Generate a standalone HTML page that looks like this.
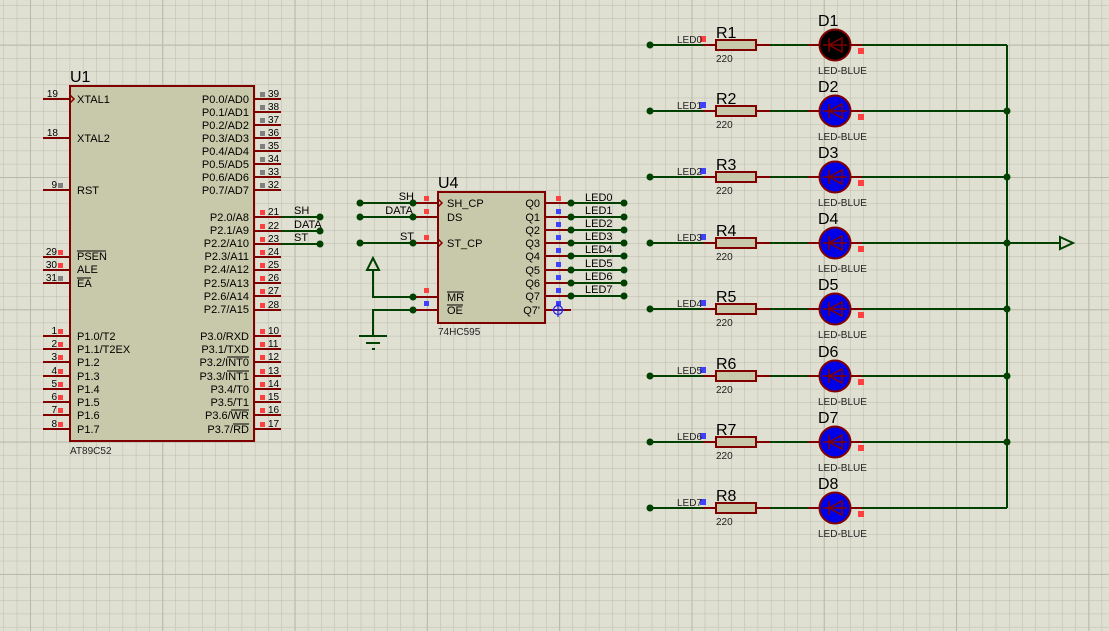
<!DOCTYPE html>
<html><head><meta charset="utf-8"><style>
html,body{margin:0;padding:0;background:#dfdfd2;}
svg{display:block;}
text{font-family:"Liberation Sans",sans-serif;fill:#000;}
.p{font-size:11px;}
.s{font-size:10px;fill:#222;}
.b{font-size:16px;}
</style></head><body>
<svg width="1109" height="631" viewBox="0 0 1109 631" xmlns="http://www.w3.org/2000/svg">
<defs>
<pattern id="g" x="3.54" y="5.1" width="13.23" height="13.23" patternUnits="userSpaceOnUse">
<path d="M0 0H13.23M0 0V13.23" stroke="#bdbdae" stroke-width="1" fill="none"/>
</pattern>
<pattern id="G" x="30" y="44.7" width="132.3" height="132.3" patternUnits="userSpaceOnUse">
<path d="M0 0H132.3M0 0V132.3" stroke="#b8b8a8" stroke-width="2" fill="none"/>
</pattern>
</defs>
<rect width="1109" height="631" fill="#dfdfd2"/>
<rect width="1109" height="631" fill="url(#g)"/>
<rect width="1109" height="631" fill="url(#G)"/>

<!-- U1 -->
<g stroke="#800000" stroke-width="2">
<line x1="43" y1="99" x2="70" y2="99"/><line x1="43" y1="138" x2="70" y2="138"/><line x1="43" y1="190" x2="70" y2="190"/>
<line x1="43" y1="257" x2="70" y2="257"/><line x1="43" y1="270" x2="70" y2="270"/><line x1="43" y1="283" x2="70" y2="283"/>
<line x1="43" y1="336" x2="70" y2="336"/><line x1="43" y1="349" x2="70" y2="349"/><line x1="43" y1="362" x2="70" y2="362"/><line x1="43" y1="376" x2="70" y2="376"/>
<line x1="43" y1="389" x2="70" y2="389"/><line x1="43" y1="402" x2="70" y2="402"/><line x1="43" y1="415" x2="70" y2="415"/><line x1="43" y1="429" x2="70" y2="429"/>
<line x1="254" y1="99" x2="281" y2="99"/><line x1="254" y1="112" x2="281" y2="112"/><line x1="254" y1="125" x2="281" y2="125"/><line x1="254" y1="138" x2="281" y2="138"/>
<line x1="254" y1="151" x2="281" y2="151"/><line x1="254" y1="164" x2="281" y2="164"/><line x1="254" y1="177" x2="281" y2="177"/><line x1="254" y1="190" x2="281" y2="190"/>
<line x1="254" y1="217" x2="281" y2="217"/><line x1="254" y1="231" x2="281" y2="231"/><line x1="254" y1="244" x2="281" y2="244"/><line x1="254" y1="257" x2="281" y2="257"/>
<line x1="254" y1="270" x2="281" y2="270"/><line x1="254" y1="283" x2="281" y2="283"/><line x1="254" y1="296" x2="281" y2="296"/><line x1="254" y1="310" x2="281" y2="310"/>
<line x1="254" y1="336" x2="281" y2="336"/><line x1="254" y1="349" x2="281" y2="349"/><line x1="254" y1="362" x2="281" y2="362"/><line x1="254" y1="376" x2="281" y2="376"/>
<line x1="254" y1="389" x2="281" y2="389"/><line x1="254" y1="402" x2="281" y2="402"/><line x1="254" y1="415" x2="281" y2="415"/><line x1="254" y1="429" x2="281" y2="429"/>
</g>
<rect x="70" y="86" width="184" height="355" fill="#c8c8aa" stroke="#800000" stroke-width="2"/>
<path d="M70 95 L74 99 L70 103" fill="none" stroke="#800000" stroke-width="1.5"/>
<text x="70" y="82" class="b">U1</text>
<text x="70" y="454" class="s">AT89C52</text>
<g class="p">
<text x="77" y="103">XTAL1</text><text x="77" y="142">XTAL2</text><text x="77" y="194">RST</text>
<text x="77" y="260">PSEN</text><text x="77" y="273">ALE</text><text x="77" y="287">EA</text>
<text x="77" y="340">P1.0/T2</text><text x="77" y="353">P1.1/T2EX</text><text x="77" y="366">P1.2</text><text x="77" y="380">P1.3</text>
<text x="77" y="393">P1.4</text><text x="77" y="406">P1.5</text><text x="77" y="419">P1.6</text><text x="77" y="433">P1.7</text>
</g>
<g stroke="#000" stroke-width="1"><line x1="77" y1="251" x2="106" y2="251"/><line x1="77" y1="278" x2="91" y2="278"/>
<line x1="227" y1="357" x2="249" y2="357"/><line x1="227" y1="371" x2="249" y2="371"/><line x1="231" y1="410" x2="249" y2="410"/><line x1="233" y1="424" x2="249" y2="424"/></g>
<g class="p" text-anchor="end">
<text x="249" y="103">P0.0/AD0</text><text x="249" y="116">P0.1/AD1</text><text x="249" y="129">P0.2/AD2</text><text x="249" y="142">P0.3/AD3</text>
<text x="249" y="155">P0.4/AD4</text><text x="249" y="168">P0.5/AD5</text><text x="249" y="181">P0.6/AD6</text><text x="249" y="194">P0.7/AD7</text>
<text x="249" y="221">P2.0/A8</text><text x="249" y="234">P2.1/A9</text><text x="249" y="247">P2.2/A10</text><text x="249" y="260">P2.3/A11</text>
<text x="249" y="273">P2.4/A12</text><text x="249" y="287">P2.5/A13</text><text x="249" y="300">P2.6/A14</text><text x="249" y="313">P2.7/A15</text>
<text x="249" y="340">P3.0/RXD</text><text x="249" y="353">P3.1/TXD</text><text x="249" y="366">P3.2/INT0</text><text x="249" y="380">P3.3/INT1</text>
<text x="249" y="393">P3.4/T0</text><text x="249" y="406">P3.5/T1</text><text x="249" y="419">P3.6/WR</text><text x="249" y="433">P3.7/RD</text>
</g>
<g class="s" text-anchor="end">
<text x="58" y="97">19</text><text x="58" y="136">18</text><text x="57" y="188">9</text>
<text x="57" y="255">29</text><text x="57" y="268">30</text><text x="57" y="281">31</text>
<text x="57" y="334">1</text><text x="57" y="347">2</text><text x="57" y="360">3</text><text x="57" y="374">4</text>
<text x="57" y="387">5</text><text x="57" y="400">6</text><text x="57" y="413">7</text><text x="57" y="427">8</text>
</g>
<g class="s">
<text x="268" y="97">39</text><text x="268" y="110">38</text><text x="268" y="123">37</text><text x="268" y="136">36</text>
<text x="268" y="149">35</text><text x="268" y="162">34</text><text x="268" y="175">33</text><text x="268" y="188">32</text>
<text x="268" y="215">21</text><text x="268" y="229">22</text><text x="268" y="242">23</text><text x="268" y="255">24</text>
<text x="268" y="268">25</text><text x="268" y="281">26</text><text x="268" y="294">27</text><text x="268" y="308">28</text>
<text x="268" y="334">10</text><text x="268" y="347">11</text><text x="268" y="360">12</text><text x="268" y="374">13</text>
<text x="268" y="387">14</text><text x="268" y="400">15</text><text x="268" y="413">16</text><text x="268" y="427">17</text>
</g>
<g fill="#808080"><rect x="58" y="183" width="5" height="5"/><rect x="58" y="276" width="5" height="5"/>
<rect x="260" y="92" width="5" height="5"/><rect x="260" y="105" width="5" height="5"/><rect x="260" y="118" width="5" height="5"/><rect x="260" y="131" width="5" height="5"/>
<rect x="260" y="144" width="5" height="5"/><rect x="260" y="157" width="5" height="5"/><rect x="260" y="170" width="5" height="5"/><rect x="260" y="183" width="5" height="5"/></g>
<g fill="#ff4040"><rect x="58" y="250" width="5" height="5"/><rect x="58" y="263" width="5" height="5"/>
<rect x="58" y="329" width="5" height="5"/><rect x="58" y="342" width="5" height="5"/><rect x="58" y="355" width="5" height="5"/><rect x="58" y="369" width="5" height="5"/>
<rect x="58" y="382" width="5" height="5"/><rect x="58" y="395" width="5" height="5"/><rect x="58" y="408" width="5" height="5"/><rect x="58" y="422" width="5" height="5"/>
<rect x="260" y="210" width="5" height="5"/><rect x="260" y="224" width="5" height="5"/><rect x="260" y="237" width="5" height="5"/><rect x="260" y="250" width="5" height="5"/>
<rect x="260" y="263" width="5" height="5"/><rect x="260" y="276" width="5" height="5"/><rect x="260" y="289" width="5" height="5"/><rect x="260" y="303" width="5" height="5"/>
<rect x="260" y="329" width="5" height="5"/><rect x="260" y="342" width="5" height="5"/><rect x="260" y="355" width="5" height="5"/><rect x="260" y="369" width="5" height="5"/>
<rect x="260" y="382" width="5" height="5"/><rect x="260" y="395" width="5" height="5"/><rect x="260" y="408" width="5" height="5"/><rect x="260" y="422" width="5" height="5"/></g>
<g stroke="#004000" stroke-width="2"><line x1="281" y1="217" x2="320" y2="217"/><line x1="281" y1="231" x2="320" y2="231"/><line x1="281" y1="244" x2="320" y2="244"/></g>
<g fill="#004000"><circle cx="320" cy="217" r="3.5"/><circle cx="320" cy="231" r="3.5"/><circle cx="320" cy="244" r="3.5"/></g>
<g class="p"><text x="294" y="214">SH</text><text x="294" y="228">DATA</text><text x="294" y="241">ST</text></g>

<!-- U4 -->
<g stroke="#800000" stroke-width="2">
<line x1="413" y1="203" x2="438" y2="203"/><line x1="413" y1="217" x2="438" y2="217"/><line x1="413" y1="243" x2="438" y2="243"/>
<line x1="413" y1="297" x2="438" y2="297"/><line x1="413" y1="310" x2="438" y2="310"/>
<line x1="545" y1="203" x2="571" y2="203"/><line x1="545" y1="217" x2="571" y2="217"/><line x1="545" y1="230" x2="571" y2="230"/><line x1="545" y1="243" x2="571" y2="243"/>
<line x1="545" y1="256" x2="571" y2="256"/><line x1="545" y1="270" x2="571" y2="270"/><line x1="545" y1="283" x2="571" y2="283"/><line x1="545" y1="296" x2="571" y2="296"/><line x1="545" y1="310" x2="571" y2="310"/>
</g>
<rect x="438" y="192" width="107" height="131" fill="#c8c8aa" stroke="#800000" stroke-width="2"/>
<path d="M438 199 L442 203 L438 207 M438 239 L442 243 L438 247" fill="none" stroke="#800000" stroke-width="1.5"/>
<text x="438" y="188" class="b">U4</text>
<text x="438" y="335" class="s">74HC595</text>
<g class="p"><text x="447" y="207">SH_CP</text><text x="447" y="221">DS</text><text x="447" y="247">ST_CP</text><text x="447" y="301">MR</text><text x="447" y="314">OE</text></g>
<g stroke="#000" stroke-width="1"><line x1="447" y1="292" x2="464" y2="292"/><line x1="447" y1="305" x2="463" y2="305"/></g>
<g class="p" text-anchor="end"><text x="540" y="207">Q0</text><text x="540" y="221">Q1</text><text x="540" y="234">Q2</text><text x="540" y="247">Q3</text>
<text x="540" y="260">Q4</text><text x="540" y="274">Q5</text><text x="540" y="287">Q6</text><text x="540" y="300">Q7</text><text x="540" y="314">Q7'</text></g>
<g fill="#ff4040"><rect x="424" y="196" width="5" height="5"/><rect x="424" y="209" width="5" height="5"/><rect x="424" y="235" width="5" height="5"/><rect x="424" y="288" width="5" height="5"/><rect x="556" y="196" width="5" height="5"/></g>
<g fill="#4040ff"><rect x="424" y="301" width="5" height="5"/>
<rect x="556" y="209" width="5" height="5"/><rect x="556" y="222" width="5" height="5"/><rect x="556" y="235" width="5" height="5"/><rect x="556" y="248" width="5" height="5"/>
<rect x="556" y="262" width="5" height="5"/><rect x="556" y="275" width="5" height="5"/><rect x="556" y="288" width="5" height="5"/><rect x="556" y="301" width="5" height="5"/></g>
<g stroke="#2020e0" stroke-width="1.2" fill="none"><circle cx="558" cy="310" r="4.5"/><line x1="558" y1="303" x2="558" y2="317"/><line x1="552" y1="310" x2="564" y2="310"/></g>
<g stroke="#004000" stroke-width="2" fill="none">
<line x1="360" y1="203" x2="413" y2="203"/><line x1="360" y1="217" x2="413" y2="217"/><line x1="360" y1="243" x2="413" y2="243"/>
<polyline points="373,270 373,297 413,297"/><polyline points="413,310 373,310 373,336"/>
<polygon points="373,258 367,270 379,270"/>
<line x1="359" y1="336" x2="387" y2="336"/><line x1="366" y1="343" x2="380" y2="343"/><line x1="372" y1="349" x2="375" y2="349"/>
<line x1="571" y1="203" x2="624" y2="203"/><line x1="571" y1="217" x2="624" y2="217"/><line x1="571" y1="230" x2="624" y2="230"/><line x1="571" y1="243" x2="624" y2="243"/>
<line x1="571" y1="256" x2="624" y2="256"/><line x1="571" y1="270" x2="624" y2="270"/><line x1="571" y1="283" x2="624" y2="283"/><line x1="571" y1="296" x2="624" y2="296"/>
</g>
<g fill="#004000">
<circle cx="360" cy="203" r="3.5"/><circle cx="360" cy="217" r="3.5"/><circle cx="360" cy="243" r="3.5"/>
<circle cx="413" cy="203" r="3.5"/><circle cx="413" cy="217" r="3.5"/><circle cx="413" cy="243" r="3.5"/><circle cx="413" cy="297" r="3.5"/><circle cx="413" cy="310" r="3.5"/>
<circle cx="571" cy="203" r="3.5"/><circle cx="571" cy="217" r="3.5"/><circle cx="571" cy="230" r="3.5"/><circle cx="571" cy="243" r="3.5"/>
<circle cx="571" cy="256" r="3.5"/><circle cx="571" cy="270" r="3.5"/><circle cx="571" cy="283" r="3.5"/><circle cx="571" cy="296" r="3.5"/>
<circle cx="624" cy="203" r="3.5"/><circle cx="624" cy="217" r="3.5"/><circle cx="624" cy="230" r="3.5"/><circle cx="624" cy="243" r="3.5"/>
<circle cx="624" cy="256" r="3.5"/><circle cx="624" cy="270" r="3.5"/><circle cx="624" cy="283" r="3.5"/><circle cx="624" cy="296" r="3.5"/>
</g>
<g class="p" text-anchor="end"><text x="414" y="200">SH</text><text x="413" y="214">DATA</text><text x="414" y="240">ST</text></g>
<g class="p"><text x="585" y="201">LED0</text><text x="585" y="214">LED1</text><text x="585" y="227">LED2</text><text x="585" y="240">LED3</text>
<text x="585" y="253">LED4</text><text x="585" y="267">LED5</text><text x="585" y="280">LED6</text><text x="585" y="293">LED7</text></g>

<!-- LED rows -->
<g stroke="#004000" stroke-width="2" fill="none">
<line x1="1007" y1="45" x2="1007" y2="508"/>
<line x1="1007" y1="243" x2="1060" y2="243"/>
<polygon points="1060,237 1073,243 1060,249"/>
</g>
<g id="rows">
<g transform="translate(0,45)">
<line x1="650" y1="0" x2="703" y2="0" stroke="#004000" stroke-width="2"/><line x1="770" y1="0" x2="808" y2="0" stroke="#004000" stroke-width="2"/><line x1="862" y1="0" x2="1007" y2="0" stroke="#004000" stroke-width="2"/>
<line x1="703" y1="0" x2="770" y2="0" stroke="#800000" stroke-width="2"/><line x1="808" y1="0" x2="862" y2="0" stroke="#800000" stroke-width="2"/>
<rect x="716" y="-5" width="40" height="10" fill="#c8c8aa" stroke="#800000" stroke-width="2"/>
<circle cx="835" cy="0" r="15.5" fill="#000" stroke="#800000" stroke-width="2"/>
<path d="M823 0H847M842 -7V7L829 0Z M829 -7V7" fill="none" stroke="#800000" stroke-width="1.5"/>
<circle cx="650" cy="0" r="3.5" fill="#004000"/>
<rect x="700" y="-9" width="6" height="6" fill="#ff4040"/><rect x="858" y="3" width="6" height="6" fill="#ff4040"/>
<text x="677" y="-2" class="s">LED0</text><text x="716" y="-7" class="b">R1</text><text x="716" y="17" class="s">220</text>
<text x="818" y="-19" class="b">D1</text><text x="818" y="29" class="s">LED-BLUE</text>
</g>
<g transform="translate(0,111)">
<line x1="650" y1="0" x2="703" y2="0" stroke="#004000" stroke-width="2"/><line x1="770" y1="0" x2="808" y2="0" stroke="#004000" stroke-width="2"/><line x1="862" y1="0" x2="1007" y2="0" stroke="#004000" stroke-width="2"/>
<line x1="703" y1="0" x2="770" y2="0" stroke="#800000" stroke-width="2"/><line x1="808" y1="0" x2="862" y2="0" stroke="#800000" stroke-width="2"/>
<rect x="716" y="-5" width="40" height="10" fill="#c8c8aa" stroke="#800000" stroke-width="2"/>
<circle cx="835" cy="0" r="15.5" fill="#0000e8" stroke="#800000" stroke-width="2"/>
<path d="M823 0H847M842 -7V7L829 0Z M829 -7V7" fill="none" stroke="#800000" stroke-width="1.5"/>
<circle cx="650" cy="0" r="3.5" fill="#004000"/><circle cx="1007" cy="0" r="3.5" fill="#004000"/>
<rect x="700" y="-9" width="6" height="6" fill="#4040ff"/><rect x="858" y="3" width="6" height="6" fill="#ff4040"/>
<text x="677" y="-2" class="s">LED1</text><text x="716" y="-7" class="b">R2</text><text x="716" y="17" class="s">220</text>
<text x="818" y="-19" class="b">D2</text><text x="818" y="29" class="s">LED-BLUE</text>
</g>
<g transform="translate(0,177)">
<line x1="650" y1="0" x2="703" y2="0" stroke="#004000" stroke-width="2"/><line x1="770" y1="0" x2="808" y2="0" stroke="#004000" stroke-width="2"/><line x1="862" y1="0" x2="1007" y2="0" stroke="#004000" stroke-width="2"/>
<line x1="703" y1="0" x2="770" y2="0" stroke="#800000" stroke-width="2"/><line x1="808" y1="0" x2="862" y2="0" stroke="#800000" stroke-width="2"/>
<rect x="716" y="-5" width="40" height="10" fill="#c8c8aa" stroke="#800000" stroke-width="2"/>
<circle cx="835" cy="0" r="15.5" fill="#0000e8" stroke="#800000" stroke-width="2"/>
<path d="M823 0H847M842 -7V7L829 0Z M829 -7V7" fill="none" stroke="#800000" stroke-width="1.5"/>
<circle cx="650" cy="0" r="3.5" fill="#004000"/><circle cx="1007" cy="0" r="3.5" fill="#004000"/>
<rect x="700" y="-9" width="6" height="6" fill="#4040ff"/><rect x="858" y="3" width="6" height="6" fill="#ff4040"/>
<text x="677" y="-2" class="s">LED2</text><text x="716" y="-7" class="b">R3</text><text x="716" y="17" class="s">220</text>
<text x="818" y="-19" class="b">D3</text><text x="818" y="29" class="s">LED-BLUE</text>
</g>
<g transform="translate(0,243)">
<line x1="650" y1="0" x2="703" y2="0" stroke="#004000" stroke-width="2"/><line x1="770" y1="0" x2="808" y2="0" stroke="#004000" stroke-width="2"/><line x1="862" y1="0" x2="1007" y2="0" stroke="#004000" stroke-width="2"/>
<line x1="703" y1="0" x2="770" y2="0" stroke="#800000" stroke-width="2"/><line x1="808" y1="0" x2="862" y2="0" stroke="#800000" stroke-width="2"/>
<rect x="716" y="-5" width="40" height="10" fill="#c8c8aa" stroke="#800000" stroke-width="2"/>
<circle cx="835" cy="0" r="15.5" fill="#0000e8" stroke="#800000" stroke-width="2"/>
<path d="M823 0H847M842 -7V7L829 0Z M829 -7V7" fill="none" stroke="#800000" stroke-width="1.5"/>
<circle cx="650" cy="0" r="3.5" fill="#004000"/><circle cx="1007" cy="0" r="3.5" fill="#004000"/>
<rect x="700" y="-9" width="6" height="6" fill="#4040ff"/><rect x="858" y="3" width="6" height="6" fill="#ff4040"/>
<text x="677" y="-2" class="s">LED3</text><text x="716" y="-7" class="b">R4</text><text x="716" y="17" class="s">220</text>
<text x="818" y="-19" class="b">D4</text><text x="818" y="29" class="s">LED-BLUE</text>
</g>
<g transform="translate(0,309)">
<line x1="650" y1="0" x2="703" y2="0" stroke="#004000" stroke-width="2"/><line x1="770" y1="0" x2="808" y2="0" stroke="#004000" stroke-width="2"/><line x1="862" y1="0" x2="1007" y2="0" stroke="#004000" stroke-width="2"/>
<line x1="703" y1="0" x2="770" y2="0" stroke="#800000" stroke-width="2"/><line x1="808" y1="0" x2="862" y2="0" stroke="#800000" stroke-width="2"/>
<rect x="716" y="-5" width="40" height="10" fill="#c8c8aa" stroke="#800000" stroke-width="2"/>
<circle cx="835" cy="0" r="15.5" fill="#0000e8" stroke="#800000" stroke-width="2"/>
<path d="M823 0H847M842 -7V7L829 0Z M829 -7V7" fill="none" stroke="#800000" stroke-width="1.5"/>
<circle cx="650" cy="0" r="3.5" fill="#004000"/><circle cx="1007" cy="0" r="3.5" fill="#004000"/>
<rect x="700" y="-9" width="6" height="6" fill="#4040ff"/><rect x="858" y="3" width="6" height="6" fill="#ff4040"/>
<text x="677" y="-2" class="s">LED4</text><text x="716" y="-7" class="b">R5</text><text x="716" y="17" class="s">220</text>
<text x="818" y="-19" class="b">D5</text><text x="818" y="29" class="s">LED-BLUE</text>
</g>
<g transform="translate(0,376)">
<line x1="650" y1="0" x2="703" y2="0" stroke="#004000" stroke-width="2"/><line x1="770" y1="0" x2="808" y2="0" stroke="#004000" stroke-width="2"/><line x1="862" y1="0" x2="1007" y2="0" stroke="#004000" stroke-width="2"/>
<line x1="703" y1="0" x2="770" y2="0" stroke="#800000" stroke-width="2"/><line x1="808" y1="0" x2="862" y2="0" stroke="#800000" stroke-width="2"/>
<rect x="716" y="-5" width="40" height="10" fill="#c8c8aa" stroke="#800000" stroke-width="2"/>
<circle cx="835" cy="0" r="15.5" fill="#0000e8" stroke="#800000" stroke-width="2"/>
<path d="M823 0H847M842 -7V7L829 0Z M829 -7V7" fill="none" stroke="#800000" stroke-width="1.5"/>
<circle cx="650" cy="0" r="3.5" fill="#004000"/><circle cx="1007" cy="0" r="3.5" fill="#004000"/>
<rect x="700" y="-9" width="6" height="6" fill="#4040ff"/><rect x="858" y="3" width="6" height="6" fill="#ff4040"/>
<text x="677" y="-2" class="s">LED5</text><text x="716" y="-7" class="b">R6</text><text x="716" y="17" class="s">220</text>
<text x="818" y="-19" class="b">D6</text><text x="818" y="29" class="s">LED-BLUE</text>
</g>
<g transform="translate(0,442)">
<line x1="650" y1="0" x2="703" y2="0" stroke="#004000" stroke-width="2"/><line x1="770" y1="0" x2="808" y2="0" stroke="#004000" stroke-width="2"/><line x1="862" y1="0" x2="1007" y2="0" stroke="#004000" stroke-width="2"/>
<line x1="703" y1="0" x2="770" y2="0" stroke="#800000" stroke-width="2"/><line x1="808" y1="0" x2="862" y2="0" stroke="#800000" stroke-width="2"/>
<rect x="716" y="-5" width="40" height="10" fill="#c8c8aa" stroke="#800000" stroke-width="2"/>
<circle cx="835" cy="0" r="15.5" fill="#0000e8" stroke="#800000" stroke-width="2"/>
<path d="M823 0H847M842 -7V7L829 0Z M829 -7V7" fill="none" stroke="#800000" stroke-width="1.5"/>
<circle cx="650" cy="0" r="3.5" fill="#004000"/><circle cx="1007" cy="0" r="3.5" fill="#004000"/>
<rect x="700" y="-9" width="6" height="6" fill="#4040ff"/><rect x="858" y="3" width="6" height="6" fill="#ff4040"/>
<text x="677" y="-2" class="s">LED6</text><text x="716" y="-7" class="b">R7</text><text x="716" y="17" class="s">220</text>
<text x="818" y="-19" class="b">D7</text><text x="818" y="29" class="s">LED-BLUE</text>
</g>
<g transform="translate(0,508)">
<line x1="650" y1="0" x2="703" y2="0" stroke="#004000" stroke-width="2"/><line x1="770" y1="0" x2="808" y2="0" stroke="#004000" stroke-width="2"/><line x1="862" y1="0" x2="1007" y2="0" stroke="#004000" stroke-width="2"/>
<line x1="703" y1="0" x2="770" y2="0" stroke="#800000" stroke-width="2"/><line x1="808" y1="0" x2="862" y2="0" stroke="#800000" stroke-width="2"/>
<rect x="716" y="-5" width="40" height="10" fill="#c8c8aa" stroke="#800000" stroke-width="2"/>
<circle cx="835" cy="0" r="15.5" fill="#0000e8" stroke="#800000" stroke-width="2"/>
<path d="M823 0H847M842 -7V7L829 0Z M829 -7V7" fill="none" stroke="#800000" stroke-width="1.5"/>
<circle cx="650" cy="0" r="3.5" fill="#004000"/>
<rect x="700" y="-9" width="6" height="6" fill="#4040ff"/><rect x="858" y="3" width="6" height="6" fill="#ff4040"/>
<text x="677" y="-2" class="s">LED7</text><text x="716" y="-7" class="b">R8</text><text x="716" y="17" class="s">220</text>
<text x="818" y="-19" class="b">D8</text><text x="818" y="29" class="s">LED-BLUE</text>
</g>
</g>
</svg>
</body></html>
